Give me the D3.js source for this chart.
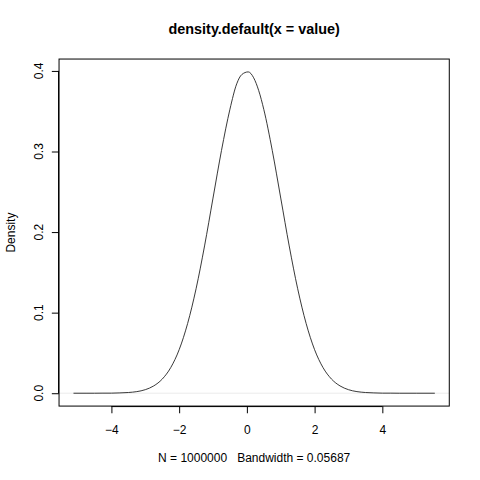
<!DOCTYPE html>
<html><head><meta charset="utf-8">
<script src="https://cdn.jsdelivr.net/npm/d3@7"></script>
<style>body{margin:0;background:#fff}svg{display:block}text{font-family:"Liberation Sans",Arial,Helvetica,sans-serif;fill:#000}</style>
</head><body>
<script>
// Density estimate values
const xs = [-5.12,-4.75,-4.5,-4.25,-4.0,-3.75,-3.5,-3.25,-3.0,-2.75,-2.5,-2.25,-2.0,-1.75,-1.5,-1.25,-1.0,-0.75,-0.5,-0.3,-0.15,0.04,0.2,0.35,0.5,0.75,1.0,1.25,1.5,1.75,2.0,2.25,2.5,2.75,3.0,3.25,3.5,3.75,4.0,4.25,4.5,5.0,5.55];
const ys = [0.0000,0.0000,0.0000,0.0001,0.0001,0.0004,0.0009,0.0020,0.0044,0.0091,0.0175,0.0317,0.0540,0.0865,0.1297,0.1828,0.2422,0.3012,0.3525,0.3840,0.3955,0.3988,0.3915,0.3755,0.3522,0.3012,0.2422,0.1828,0.1297,0.0865,0.0540,0.0317,0.0175,0.0091,0.0044,0.0020,0.0009,0.0004,0.0001,0.0001,0.0000,0.0000,0.0000];
const xTicks = [-4,-2,0,2,4];
const yTicks = [0.0,0.1,0.2,0.3,0.4];
const yTickLabels = ["0.0","0.1","0.2","0.3","0.4"];
const title = "density.default(x = value)";
const subTitle = "N = 1000000   Bandwidth = 0.05687";
const yLabel = "Density";

const W = 480, H = 480;
const L = 59.04, R = 449.28, T = 59.04, B = 406.08;
const xmin = d3.min(xs), xmax = d3.max(xs), ymax = d3.max(ys);
const xpad = (xmax - xmin) * 0.04, ypad = ymax * 0.04;
const x = d3.scaleLinear().domain([xmin - xpad, xmax + xpad]).range([L, R]);
const y = d3.scaleLinear().domain([0 - ypad, ymax + ypad]).range([B, T]);

const svg = d3.select("body").append("svg").attr("width", W).attr("height", H);

// zero line
svg.append("line").attr("x1", L).attr("x2", R).attr("y1", y(0)).attr("y2", y(0))
  .attr("stroke", "#bebebe").attr("stroke-width", 0.3);

// curve
const pts = xs.map((d, i) => [d, ys[i]]);
svg.append("path").datum(pts)
  .attr("d", d3.line().x(d => x(d[0])).y(d => y(d[1])).curve(d3.curveMonotoneX))
  .attr("fill", "none").attr("stroke", "#222").attr("stroke-width", 0.9);

// box
svg.append("rect").attr("x", L).attr("y", T).attr("width", R - L).attr("height", B - T)
  .attr("fill", "none").attr("stroke", "#000").attr("stroke-width", 1);

// x axis
const xa = svg.append("g").attr("transform", `translate(0,${B})`)
  .call(d3.axisBottom(x).tickValues(xTicks).tickSize(7.2).tickPadding(12).tickFormat(d3.format("d")));
xa.select(".domain").attr("d", `M${x(xTicks[0])},0.5H${x(xTicks[xTicks.length-1])}`);
xa.selectAll("text").attr("font-size", 12).attr("font-family", "Liberation Sans, Arial, sans-serif").attr("fill", "#000");

// y axis
const ya = svg.append("g").attr("transform", `translate(${L},0)`)
  .call(d3.axisLeft(y).tickValues(yTicks).tickSize(7.2).tickFormat((d, i) => yTickLabels[i]));
ya.select(".domain").attr("d", `M-0.5,${y(yTicks[0])}V${y(yTicks[yTicks.length-1])}`);
ya.selectAll("text").attr("font-size", 12).attr("font-family", "Liberation Sans, Arial, sans-serif")
  .attr("fill", "#000").attr("text-anchor", "middle").attr("dy", 0)
  .attr("transform", d => `translate(${-16},${y(d)}) rotate(-90)`).attr("x", 0).attr("y", 0);
ya.selectAll(".tick").attr("transform", "translate(0,0)");
ya.selectAll(".tick line").attr("y1", d => y(d) + 0.5).attr("y2", d => y(d) + 0.5);

// titles
svg.append("text").attr("x", (L + R) / 2).attr("y", 34).attr("text-anchor", "middle")
  .attr("font-weight", "bold").attr("font-size", 14.4).text(title);
svg.append("text").attr("x", (L + R) / 2).attr("y", 462).attr("text-anchor", "middle")
  .attr("font-size", 12).style("white-space", "pre").attr("xml:space", "preserve").text(subTitle);
svg.append("text").attr("transform", `translate(14.5,${(T + B) / 2}) rotate(-90)`)
  .attr("text-anchor", "middle").attr("font-size", 12).text(yLabel);
</script>
</body></html>
